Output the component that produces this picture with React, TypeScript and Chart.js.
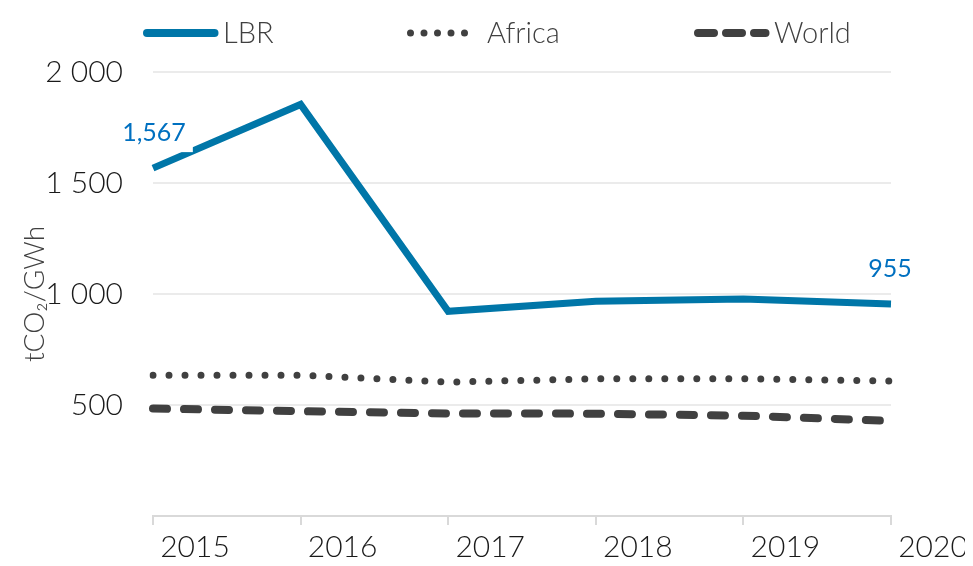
import React, { useEffect, useRef } from "react";
import { Chart, registerables } from "chart.js";

Chart.register(...registerables);

const years = ["2015", "2016", "2017", "2018", "2019", "2020"];
const lbr = [1567, 1854, 922, 967, 978, 955];
const africa = [634, 634, 603, 618, 618, 608];
const world = [484, 472, 462, 461, 452, 428];
const yTicks = [0, 500, 1000, 1500, 2000];

const BLUE = "#0076A8";
const LABEL_BLUE = "#0070C0";
const DARK = "#404040";
const TICK_FONT = "Lato";

const fmt = (v: number) => {
  if (v === 0) return "";
  const s = String(v);
  return s.length > 3 ? s.slice(0, s.length - 3) + " " + s.slice(-3) : s;
};

const extras = {
  id: "extras",
  afterDatasetsDraw(chart: any) {
    const ctx = chart.ctx;
    const meta = chart.getDatasetMeta(0);
    const pts = [
      { i: 0, text: "1,567" },
      { i: 5, text: "955" },
    ];
    ctx.save();
    ctx.font = `25px ${TICK_FONT}`;
    ctx.textAlign = "center";
    ctx.textBaseline = "middle";
    for (const p of pts) {
      const el = meta.data[p.i];
      const cx = el.x + (p.i === 0 ? 1 : -1);
      const cy = el.y - 35;
      const w = ctx.measureText(p.text).width + 14;
      ctx.fillStyle = "#ffffff";
      ctx.fillRect(cx - w / 2, cy - 19, w, 38);
      ctx.fillStyle = LABEL_BLUE;
      ctx.fillText(p.text, cx, cy);
    }
    ctx.restore();
  },
  afterDraw(chart: any) {
    const ctx = chart.ctx;
    const y = 25;
    const items = [
      { x: 135, w: 75, color: BLUE, dash: [], width: 8, label: "LBR", tx: 215 },
      { x: 399, w: 72, color: DARK, dash: [0, 13.5], width: 7, label: "Africa", tx: 479 },
      { x: 686, w: 75, color: DARK, dash: [16, 12], width: 8, label: "World", tx: 766 },
    ];
    ctx.save();
    for (const it of items) {
      const half = it.width / 2;
      ctx.beginPath();
      ctx.setLineDash(it.dash);
      ctx.lineCap = "round";
      ctx.lineWidth = it.width;
      ctx.strokeStyle = it.color;
      ctx.moveTo(it.x + half, y);
      ctx.lineTo(it.x + it.w - half + 0.5, y);
      ctx.stroke();
      ctx.setLineDash([]);
      ctx.font = `300 29px ${TICK_FONT}`;
      ctx.fillStyle = DARK;
      ctx.textAlign = "left";
      ctx.textBaseline = "middle";
      ctx.fillText(it.label, it.tx, y + 1);
    }
    ctx.restore();
  },
};

export default function App() {
  const ref = useRef<HTMLCanvasElement | null>(null);
  useEffect(() => {
    if (!ref.current) return;
    const chart = new Chart(ref.current, {
      type: "line",
      data: {
        labels: years,
        datasets: [
          {
            label: "LBR",
            data: lbr,
            borderColor: BLUE,
            borderWidth: 7,
            pointRadius: 0,
            tension: 0,
            borderJoinStyle: "miter",
          },
          {
            label: "Africa",
            data: africa,
            borderColor: DARK,
            borderWidth: 7,
            borderDash: [0, 16],
            borderCapStyle: "round",
            pointRadius: 0,
            tension: 0,
          },
          {
            label: "World",
            data: world,
            borderColor: DARK,
            borderWidth: 8,
            borderDash: [14, 17],
            borderCapStyle: "round",
            pointRadius: 0,
            tension: 0,
          },
        ],
      },
      options: {
        animation: false,
        responsive: true,
        maintainAspectRatio: false,
        layout: { padding: { top: 64, right: 74, left: 0, bottom: 0 } },
        plugins: {
          legend: { display: false },
          tooltip: { enabled: false },
        },
        scales: {
          x: {
            offset: false,
            border: { display: true, color: "#d9d9d9", width: 2 },
            grid: {
              drawOnChartArea: false,
              drawTicks: true,
              tickLength: 9,
              color: "#d9d9d9",
              lineWidth: 2,
            },
            ticks: {
              labelOffset: 42,
              padding: 4,
              maxRotation: 0,
              autoSkip: false,
              color: "#1a1a1a",
              font: { family: TICK_FONT, size: 30, weight: "300" },
            },
            afterFit(scale: any) {
              scale.height = 50;
            },
          },
          y: {
            min: 0,
            max: 2000,
            border: { display: false },
            grid: {
              drawTicks: false,
              color: (c: any) => (c.tick && c.tick.value === 0 ? "rgba(0,0,0,0)" : "#ebebeb"),
              lineWidth: 2,
            },
            afterBuildTicks(scale: any) {
              scale.ticks = yTicks.map((v) => ({ value: v }));
            },
            ticks: {
              padding: 30,
              color: "#1a1a1a",
              font: { family: TICK_FONT, size: 30, weight: "300" },
              callback: (v: any) => fmt(Number(v)),
            },
            title: {
              display: true,
              text: "tCO₂/GWh",
              color: DARK,
              padding: { top: 10, bottom: 0 },
              font: { family: TICK_FONT, size: 28, weight: "300" },
            },
            afterFit(scale: any) {
              scale.width = 145;
            },
          },
        },
      },
      plugins: [extras],
    });
    return () => chart.destroy();
  }, []);
  return (
    <div style={{ position: "relative", width: 957, height: 558, marginBottom: -8 }}>
      <canvas ref={ref} />
    </div>
  );
}
